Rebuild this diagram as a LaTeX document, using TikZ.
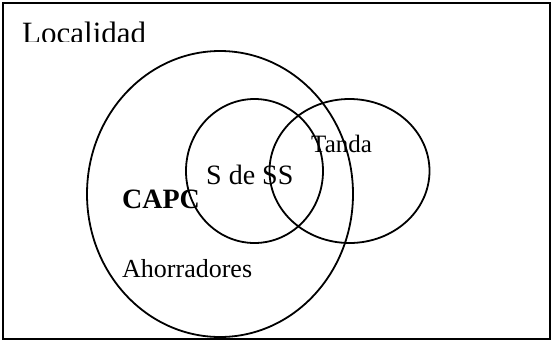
\documentclass[tikz,border=0pt]{standalone}
\usepackage{fontspec}
\setmainfont{Liberation Serif}
\usepackage{tikz}

\begin{document}
\begin{tikzpicture}[x=1pt, y=-1pt,
		set/.style={line width=1.8pt},
		label/.style={anchor=base west, inner sep=0pt}]
	\useasboundingbox (0,0) rectangle (552,341);
	\draw[line width=2pt] (2.5,2.5) rectangle (550,338.5);

	% title, cut at the bottom like the text box
	\begin{scope}
		\clip (5,5) rectangle (300,41.5);
		\node[label, font=\fontsize{31}{31}\selectfont] (localidad) at (22,43) {Localidad};
	\end{scope}

	\draw[set] (220,194) ellipse [x radius=133, y radius=143];
	\draw[set] (254.5,171) ellipse [x radius=68.5, y radius=72];
	\draw[set] (349.5,171) ellipse [x radius=80, y radius=72];

	\node[label, font=\fontsize{28}{28}\selectfont] (sdess) at (206,184) {S de SS};
	\node[label, font=\fontsize{25}{25}\selectfont] (tanda) at (311,152) {Tanda};
	\node[label, font=\fontsize{28}{28}\selectfont\bfseries] (capc) at (122,208) {CAPC};
	\node[label, font=\fontsize{26}{26}\selectfont] (ahorradores) at (122,277) {Ahorradores};
\end{tikzpicture}
\end{document}
